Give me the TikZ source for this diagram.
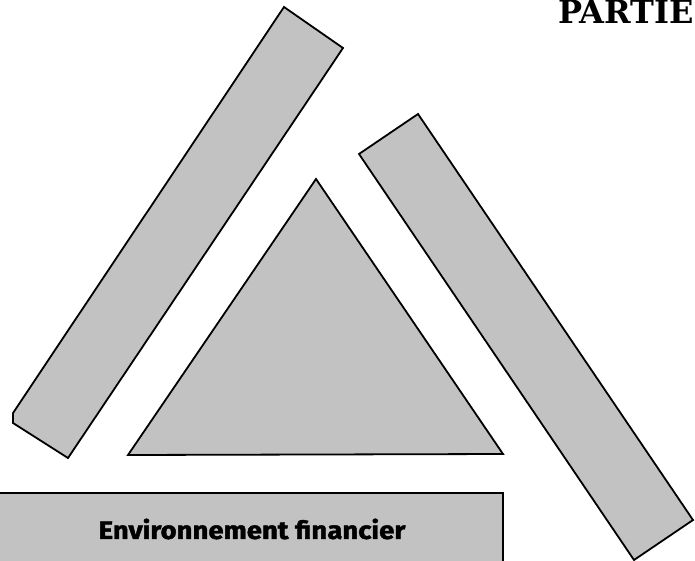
\documentclass[tikz,border=0pt]{standalone}
\usepackage{fontspec}
\setmainfont{DejaVu Serif}
\setsansfont{Fira Sans}[BoldFeatures={FakeBold=1.6}]
\begin{document}
\begin{tikzpicture}[x=1pt,y=-1pt,
  panel/.style={draw=black, line width=1.8pt, line join=miter, fill=black!24},
  bandlabel/.style={font=\sffamily\bfseries\fontsize{25}{25}\selectfont, inner sep=0pt, xscale=1.1},
  headline/.style={font=\bfseries\fontsize{32}{32}\selectfont, inner sep=0pt, anchor=base west}]
\useasboundingbox (0,0) rectangle (695,561);
\begin{scope}
\clip (0,0) rectangle (695,561);
% left slanted bar
\draw[panel] (284,7) -- (343,48) -- (68,458) -- (13,423) -- (13,413) -- cycle;
% right slanted bar
\draw[panel] (418,114) -- (693,520) -- (634,560) -- (359,154) -- cycle;
% central triangle
\draw[panel] (316,179) -- (503,454) -- (128,455) -- cycle;
% bottom band
\draw[panel] (-10,493) -- (503,493) -- (503,575) -- (-10,575) -- cycle;
\end{scope}
\node[bandlabel] (env) at (252,529) {Environnement financier};
% heading
\node[headline] (part) at (558,24) {PARTIE};
\end{tikzpicture}
\end{document}
